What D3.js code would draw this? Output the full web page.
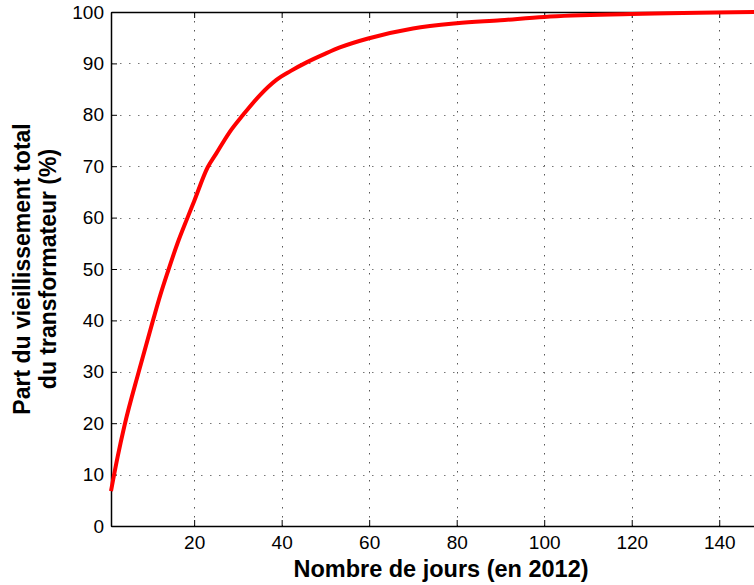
<!DOCTYPE html>
<html><head><meta charset="utf-8">
<script src="https://cdn.jsdelivr.net/npm/d3@7"></script>
<style>
html,body{margin:0;padding:0;background:#fff;overflow:hidden;}
text{font-family:"Liberation Sans",Arial,Helvetica,sans-serif;}
</style></head>
<body><svg id="c" width="754" height="585"></svg>
<script>
const days = [1, 2.5, 4.1, 7.4, 10.6, 12.3, 14, 16.2, 18.4, 20, 23.1, 25, 28, 31.2, 35, 38.8, 42, 45.7, 50, 53.3, 60, 70, 80, 90, 100, 120, 150];
const share = [6.8, 13.4, 19.6, 30.2, 40, 45, 49.5, 55, 59.8, 63.2, 69.8, 72.4, 76.5, 80, 83.8, 86.8, 88.5, 90.2, 91.9, 93.1, 94.9, 96.8, 97.8, 98.4, 99.05, 99.6, 100];
const xTicks = [20, 40, 60, 80, 100, 120, 140];
const yTicks = [0, 10, 20, 30, 40, 50, 60, 70, 80, 90, 100];
const xTitle = "Nombre de jours (en 2012)";
const yTitle = ["Part du vieillissement total", "du transformateur (%)"];

const svg = d3.select("#c");
const L = 111, R = 763, T = 12, B = 526;
const x = d3.scaleLinear().domain([1, 150]).range([L, R]);
const y = d3.scaleLinear().domain([0, 100]).range([B, T]);

// grid
const grid = svg.append("g");
grid.selectAll(".gx").data(xTicks).enter().append("line")
  .attr("x1", d => Math.round(x(d)) + 0.5).attr("x2", d => Math.round(x(d)) + 0.5)
  .attr("y1", T).attr("y2", B)
  .attr("stroke", "#555").attr("stroke-width", 1).attr("stroke-dasharray", "1.5,7.5");
grid.selectAll(".gy").data(yTicks.filter(d => d > 0 && d < 100)).enter().append("line")
  .attr("x1", L).attr("x2", R)
  .attr("y1", d => Math.round(y(d)) + 0.5).attr("y2", d => Math.round(y(d)) + 0.5)
  .attr("stroke", "#777").attr("stroke-width", 1).attr("stroke-dasharray", "1.5,7.5");

// axes
const ax = svg.append("g").attr("transform", `translate(0,${B})`)
  .call(d3.axisBottom(x).tickValues(xTicks).tickSizeInner(-6).tickSizeOuter(0).tickPadding(10));
const axTop = svg.append("g").attr("transform", `translate(0,${T})`)
  .call(d3.axisTop(x).tickValues(xTicks).tickSizeInner(-6).tickSizeOuter(0).tickFormat(""));
const ay = svg.append("g").attr("transform", `translate(${L},0)`)
  .call(d3.axisLeft(y).tickValues(yTicks).tickSizeInner(-6).tickSizeOuter(0).tickPadding(7));
[ax, axTop, ay].forEach(g => {
  g.select(".domain").attr("stroke", "#000").attr("stroke-width", 1.5);
  g.selectAll(".tick line").attr("stroke", "#000").attr("stroke-width", 1);
  g.selectAll(".tick text").attr("font-size", "19px").attr("fill", "#000")
    .attr("font-family", '"Liberation Sans",Arial,sans-serif');
});

// line
const line = d3.line().x((d, i) => x(days[i])).y(d => y(d)).curve(d3.curveMonotoneX);
svg.append("path").datum(share).attr("d", line)
  .attr("fill", "none").attr("stroke", "#ff0000").attr("stroke-width", 4)
  .attr("stroke-linejoin", "round");

// titles
svg.append("text").attr("x", 441).attr("y", 577).attr("text-anchor", "middle")
  .attr("font-size", "23.5px").attr("font-weight", "bold").text(xTitle);
const yt = svg.append("text").attr("transform", `translate(0,${(T + B) / 2}) rotate(-90)`)
  .attr("text-anchor", "middle").attr("font-size", "23px").attr("font-weight", "bold");
yt.append("tspan").attr("x", 0).attr("y", 30).text(yTitle[0]);
yt.append("tspan").attr("x", 0).attr("y", 56).text(yTitle[1]);
</script></body></html>
